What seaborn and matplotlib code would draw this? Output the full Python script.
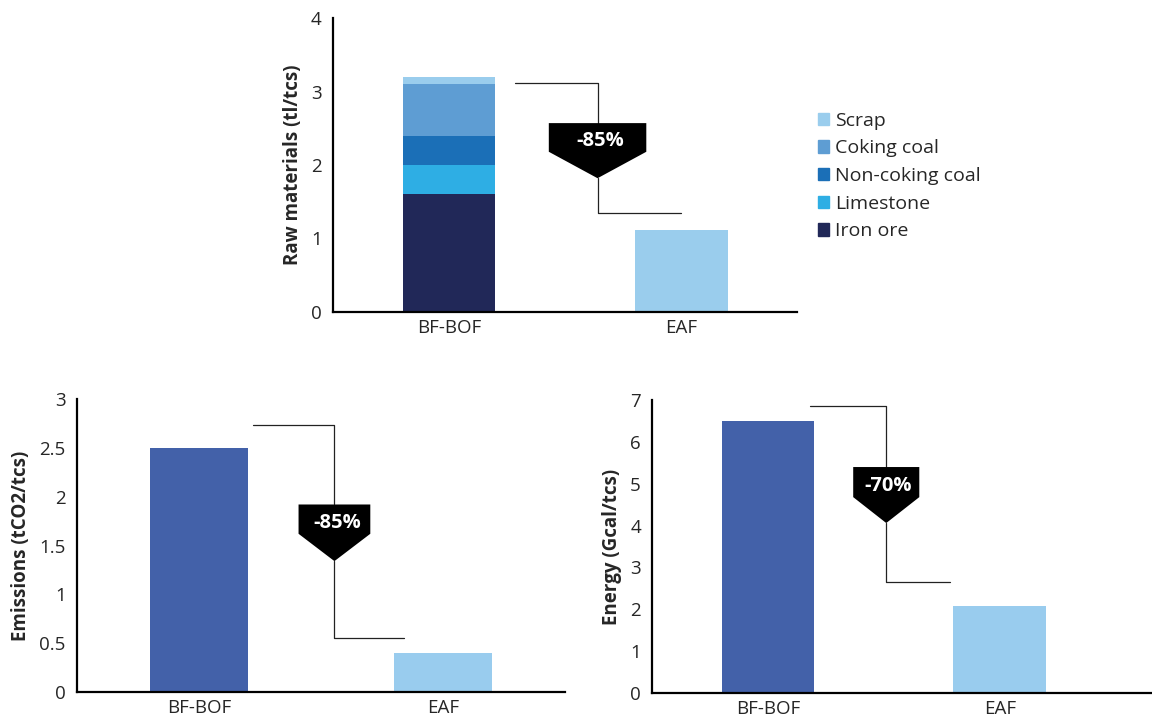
import numpy as np
import pandas as pd
import matplotlib.pyplot as plt
import seaborn as sns
from matplotlib.patches import Patch, Polygon

# --- data ---
routes = ['BF-BOF', 'EAF']

# raw materials for BF-BOF, bottom to top (tl/tcs)
raw_parts = ['Iron ore', 'Limestone', 'Non-coking coal', 'Coking coal', 'Scrap']
raw_bfbof = [1.6, 0.4, 0.4, 0.7, 0.1]
raw_eaf = 1.12  # all scrap
raw_colors = ['#212858', '#2EAEE4', '#1B6FB7', '#5E9DD3', '#9ACDED']

emissions = [2.5, 0.4]   # tCO2/tcs
energy = [6.5, 2.07]     # Gcal/tcs
route_colors = ['#4361A9', '#99CCEE']

drops = ['-85%', '-85%', '-70%']

# --- style ---
sns.set_style('white')
plt.rcParams['font.family'] = ['Open Sans', 'DejaVu Sans']
FS = 13.5

fig = plt.figure(figsize=(11.52, 7.21), dpi=100)
ax_raw = fig.add_axes([0.289, 0.5673, 0.403, 0.4077])
ax_em = fig.add_axes([0.0668, 0.0402, 0.4237, 0.4064])
ax_en = fig.add_axes([0.566, 0.0392, 0.434, 0.4058])

bar_kw = dict(saturation=1, width=0.4, linewidth=0, edgecolor='none')


def style_axes(ax, ymax, ystep, ylabel, xmax=1.5):
    ax.set_xlim(-0.5, xmax)
    ax.set_ylim(0, ymax)
    ticks = np.arange(0, ymax + ystep / 2, ystep)
    ax.set_yticks(ticks)
    ax.set_yticklabels(['{:g}'.format(t) for t in ticks])
    ax.set_xticks([0, 1])
    ax.set_xticklabels(routes)
    ax.set_xticks([-0.5, 0.5, 1.5], minor=True)
    ax.tick_params(axis='x', which='major', length=0, pad=5, labelsize=FS)
    ax.tick_params(axis='x', which='minor', direction='out', length=4, width=1.5, color='black')
    ax.tick_params(axis='y', direction='out', length=4, width=1.2, color='black', pad=4, labelsize=FS)
    ax.set_xlabel('')
    ax.set_ylabel(ylabel, fontsize=FS, fontweight='bold', labelpad=6)
    for s in ['top', 'right']:
        ax.spines[s].set_visible(False)
    for s in ['left', 'bottom']:
        ax.spines[s].set_color('black')
        ax.spines[s].set_linewidth(1.6)


def drop_marker(ax, x_start, x_mid, x_end, y_hi, y_lo, box_w, box_top, rect_bottom, tip, text_y, label):
    ax.plot([x_start, x_mid, x_mid], [y_hi, y_hi, box_top], color='#222222', lw=0.9, clip_on=False)
    ax.plot([x_mid, x_mid, x_end], [tip, y_lo, y_lo], color='#222222', lw=0.9, clip_on=False)
    pts = [(x_mid - box_w / 2, box_top), (x_mid + box_w / 2, box_top),
           (x_mid + box_w / 2, rect_bottom), (x_mid, tip), (x_mid - box_w / 2, rect_bottom)]
    ax.add_patch(Polygon(pts, closed=True, fc='black', ec='none', zorder=3))
    ax.text(x_mid + 0.01, text_y, label, color='white', fontweight='bold', fontsize=14.5,
            ha='center', va='center', zorder=4)


# --- raw materials: stacked by overdrawing cumulative totals ---
cum = np.cumsum(raw_bfbof)
for i in range(len(raw_parts) - 1, -1, -1):
    sns.barplot(x=['BF-BOF'], y=[cum[i]], order=routes, color=raw_colors[i], ax=ax_raw, **bar_kw)
sns.barplot(x=['EAF'], y=[raw_eaf], order=routes, color=raw_colors[-1], ax=ax_raw, **bar_kw)
style_axes(ax_raw, 4, 1, 'Raw materials (tl/tcs)')
drop_marker(ax_raw, 0.284, 0.64, 1.0, 3.11, 1.35, 0.42, 2.57, 2.18, 1.82, 2.33, drops[0])

handles = [Patch(color=raw_colors[i], label=raw_parts[i]) for i in range(len(raw_parts) - 1, -1, -1)]
fig.legend(handles=handles, loc='upper left', bbox_to_anchor=(0.703, 0.856), frameon=False,
           fontsize=14, handlelength=0.6, handleheight=0.6, handletextpad=0.3,
           labelspacing=0.5, borderaxespad=0)

# --- emissions ---
df_em = pd.DataFrame({'route': routes, 'value': emissions})
sns.barplot(data=df_em, x='route', y='value', hue='route', palette=route_colors,
            order=routes, legend=False, ax=ax_em, **bar_kw)
style_axes(ax_em, 3, 0.5, 'Emissions (tCO2/tcs)')
drop_marker(ax_em, 0.22, 0.555, 0.84, 2.73, 0.55, 0.294, 1.92, 1.62, 1.34, 1.73, drops[1])

# --- energy ---
df_en = pd.DataFrame({'route': routes, 'value': energy})
sns.barplot(data=df_en, x='route', y='value', hue='route', palette=route_colors,
            order=routes, legend=False, ax=ax_en, **bar_kw)
style_axes(ax_en, 7, 1, 'Energy (Gcal/tcs)', xmax=1.656)
drop_marker(ax_en, 0.18, 0.51, 0.787, 6.85, 2.66, 0.285, 5.4, 4.68, 4.06, 4.95, drops[2])

fig.savefig('out.png', dpi=100)
